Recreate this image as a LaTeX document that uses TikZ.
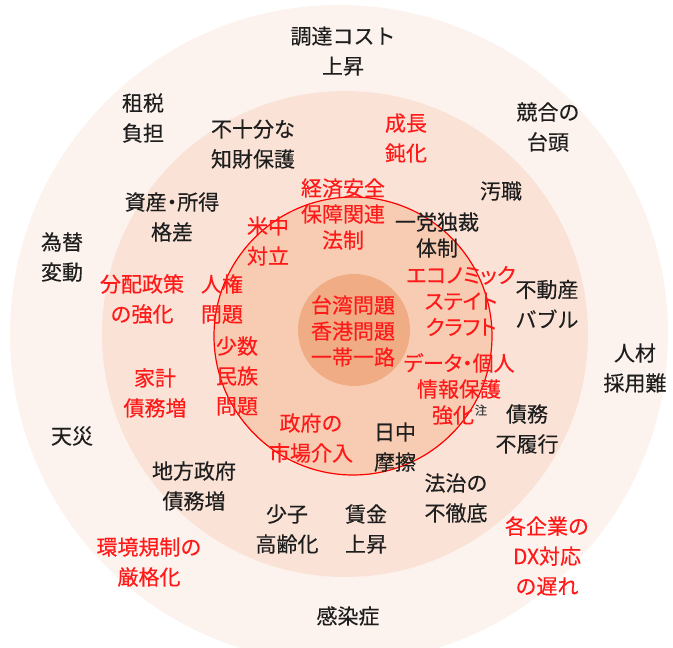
\documentclass[tikz,border=0pt]{standalone}
\usepackage{fontspec}
\setmainfont{Noto Sans CJK JP}[FakeBold=0.3]
\newfontfamily\propfont{Noto Sans CJK JP}[FakeBold=0.3, RawFeature=+palt]
\definecolor{ringA}{HTML}{FDF3EE}
\definecolor{ringB}{HTML}{FAE3D6}
\definecolor{ringC}{HTML}{F8CCB2}
\definecolor{ringD}{HTML}{F0AD85}
\definecolor{txtred}{HTML}{FF1A1A}
\definecolor{txtblk}{HTML}{1E1E1E}
\begin{document}
\begin{tikzpicture}[x=1pt,y=-1pt,
  lbl/.style={align=center, inner sep=0pt, font=\fontsize{21}{30}\selectfont, text=txtblk},
  rlbl/.style={lbl, text=txtred},
  tight/.style={font=\fontsize{21}{26}\selectfont},
  prop/.style={font=\propfont\fontsize{21}{26}\selectfont},
  note/.style={inner sep=0pt, font=\fontsize{12}{14}\selectfont, text=txtblk!85}]
\useasboundingbox (0,0) rectangle (673,648);
\begin{scope}
  \clip (0,0) rectangle (673,648);
  \fill[white] (0,0) rectangle (673,648);
  \fill[ringA] (339,334) circle[radius=329pt];
  \fill[ringB] (345,334) circle[radius=243pt];
  \fill[ringC, draw=red, line width=1.2pt] (353,336) circle[radius=139pt];
  \fill[ringD] (354,330) circle[radius=56pt];
\end{scope}

% black labels
\node[lbl] (cost) at (343,51) {調達コスト\\上昇};
\node[lbl] (tax) at (143,118) {租税\\負担};
\node[lbl] (ip) at (253,144) {不十分な\\知財保護};
\node[lbl] (comp) at (548,127) {競合の\\台頭};
\node[lbl] (corr) at (501,191) {汚職};
\node[lbl, font=\propfont\fontsize{21}{30}\selectfont] (gap) at (172,217) {資産・所得\\格差};
\node[lbl, tight] (party) at (437,235) {一党独裁\\体制};
\node[lbl] (fx) at (62,257) {為替\\変動};
\node[lbl] (bubble) at (547,304) {不動産\\バブル};
\node[lbl] (hire) at (635,368) {人材\\採用難};
\node[lbl] (default) at (527,429) {債務\\不履行};
\node[lbl] (disaster) at (72,436) {天災};
\node[lbl] (jc) at (395,447) {日中\\摩擦};
\node[lbl] (local) at (194,486) {地方政府\\債務増};
\node[lbl] (law) at (456,498) {法治の\\不徹底};
\node[lbl] (aging) at (287,529) {少子\\高齢化};
\node[lbl] (wage) at (366,529) {賃金\\上昇};
\node[lbl] (infect) at (348,616) {感染症};

% red labels
\node[rlbl] (growth) at (406,138) {成長\\鈍化};
\node[rlbl, tight] (secur) at (343,214) {経済安全\\保障関連\\法制};
\node[rlbl] (usc) at (268,241) {米中\\対立};
\node[rlbl, prop] (econ) at (461,301) {エコノミック\\ステイト\\クラフト};
\node[rlbl] (redis) at (142,299) {分配政策\\の強化};
\node[rlbl] (hr) at (222,299) {人権\\問題};
\node[rlbl] (minor) at (237,376) {少数\\民族\\問題};
\node[rlbl, tight] (core) at (353,331) {台湾問題\\香港問題\\一帯一路};
\node[rlbl, prop] (data) at (459,389) {データ・個人\\情報保護\\強化\makebox[12pt]{}};
\node[note] (chu) at (481,410) {注};
\node[rlbl] (hh) at (155,393) {家計\\債務増};
\node[rlbl] (gov) at (311,438) {政府の\\市場介入};
\node[rlbl] (env) at (149,562) {環境規制の\\厳格化};
\node[rlbl] (dx) at (547,556) {各企業の\\DX対応\\の遅れ};
\end{tikzpicture}
\end{document}
